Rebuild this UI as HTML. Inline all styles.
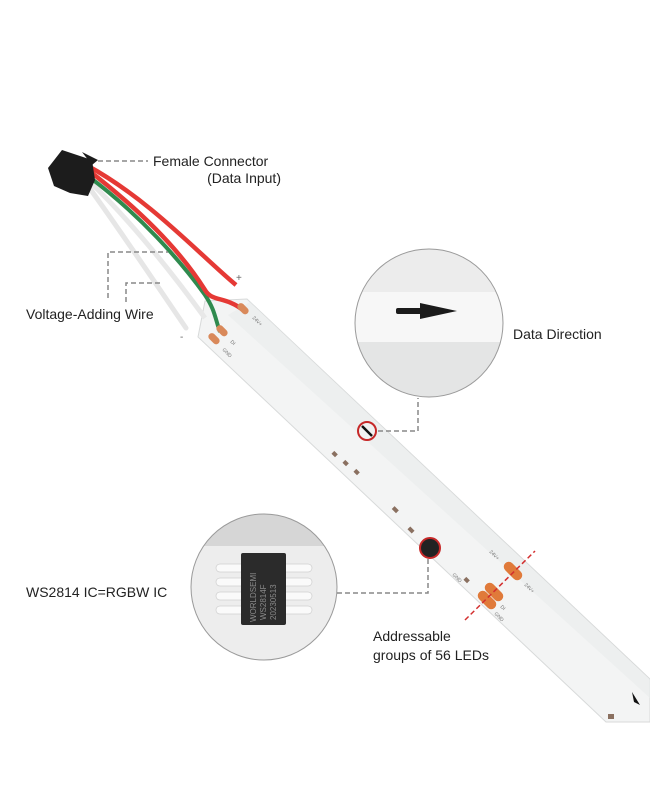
<!DOCTYPE html>
<html><head><meta charset="utf-8"><style>
html,body{margin:0;padding:0;background:#fff;}
svg{display:block;font-family:"Liberation Sans",sans-serif;}
</style></head><body>
<svg width="650" height="800" viewBox="0 0 650 800" xmlns="http://www.w3.org/2000/svg">
<defs>
<clipPath id="c1"><circle cx="429" cy="323" r="74"/></clipPath>
<clipPath id="c2"><circle cx="264" cy="587" r="73"/></clipPath>
</defs>
<rect width="650" height="800" fill="#fff"/>
<!-- strip -->
<polygon points="205,301 247,299 650,679 650,722 606,722 198,337" fill="#f3f4f4" stroke="#d8dada" stroke-width="1"/>
<polygon points="228,315 250,302 650,680 650,698" fill="#eaecec" opacity="0.7"/>
<!-- wires -->
<path d="M88,186 C120,230 160,290 186,328" stroke="#e6e6e6" stroke-width="5" fill="none" stroke-linecap="round"/>
<path d="M88,180 C130,220 170,270 205,318" stroke="#e8e8e8" stroke-width="5" fill="none"/>
<path d="M88,176 C140,215 180,260 205,295 C215,310 215,318 220,332" stroke="#2f8a4e" stroke-width="4" fill="none"/>
<path d="M88,170 C140,210 180,250 205,290 C212,302 225,296 243,310" stroke="#e53935" stroke-width="4.5" fill="none"/>
<path d="M88,166 C150,200 200,255 236,285" stroke="#e53935" stroke-width="4.5" fill="none"/>
<!-- connector -->
<polygon points="48,168 62,150 92,160 95,180 88,196 70,193 54,186" fill="#1c1c1c"/>
<polygon points="82,152 98,160 92,165" fill="#1c1c1c"/>
<text x="236" y="281" font-size="10" fill="#666">+</text>
<text x="180" y="340" font-size="10" fill="#666">-</text>
<!-- pads -->
<g fill="#d9895a">
<rect x="237" y="305" width="13" height="7" rx="3.5" transform="rotate(45 243 308)"/>
<rect x="216" y="327" width="13" height="7" rx="3.5" transform="rotate(45 222 330)"/>
<rect x="208" y="335" width="13" height="7" rx="3.5" transform="rotate(45 214 338)"/>
<rect x="502" y="566" width="22" height="10" rx="5" transform="rotate(45 513 571)" fill="#e07a3a"/>
<rect x="483" y="587" width="22" height="10" rx="5" transform="rotate(45 494 592)" fill="#e07a3a"/>
<rect x="476" y="595" width="22" height="10" rx="5" transform="rotate(45 487 600)" fill="#e07a3a"/>
</g>
<g font-size="5" fill="#777">
<text x="252" y="318" transform="rotate(45 252 318)">24V+</text>
<text x="230" y="342" transform="rotate(45 230 342)">DI</text>
<text x="222" y="350" transform="rotate(45 222 350)">GND</text>
<text x="489" y="552" transform="rotate(45 489 552)">24V+</text>
<text x="524" y="585" transform="rotate(45 524 585)">24V+</text>
<text x="452" y="575" transform="rotate(45 452 575)">GND</text>
<text x="500" y="607" transform="rotate(45 500 607)">DI</text>
<text x="494" y="614" transform="rotate(45 494 614)">GND</text>
</g>
<!-- small components -->
<g fill="#8a7060">
<rect x="333" y="452" width="5" height="4" transform="rotate(45 335 453)"/>
<rect x="344" y="461" width="5" height="4" transform="rotate(45 346 462)"/>
<rect x="355" y="470" width="5" height="4" transform="rotate(45 357 471)"/>
<rect x="393" y="508" width="6" height="4" transform="rotate(45 396 509)"/>
<rect x="408" y="528" width="6" height="4" transform="rotate(45 411 530)"/>
<rect x="465" y="578" width="5" height="4" transform="rotate(45 467 579)"/>
<rect x="608" y="714" width="6" height="5"/>
</g>
<path d="M632,692 L640,705 L634,702 Z" fill="#111"/>
<!-- red cut lines -->
<line x1="465" y1="620" x2="535" y2="551" stroke="#d32f2f" stroke-width="1.5" stroke-dasharray="5,3"/>
<!-- data direction circle -->
<g clip-path="url(#c1)">
<rect x="350" y="245" width="160" height="160" fill="#ececec"/>
<rect x="350" y="292" width="160" height="50" fill="#f7f7f7"/>
<rect x="350" y="342" width="160" height="60" fill="#e4e5e5"/>
<rect x="396" y="308" width="26" height="6" rx="2" fill="#1b1b1b"/>
<polygon points="420,303 457,311 420,319" fill="#1b1b1b"/>
</g>
<circle cx="429" cy="323" r="74" fill="none" stroke="#9a9a9a" stroke-width="1"/>
<circle cx="367" cy="431" r="9" fill="#f1f1f1" stroke="#c62828" stroke-width="2"/>
<line x1="362" y1="426" x2="372" y2="436" stroke="#111" stroke-width="2.5"/>
<polyline points="378,431 418,431 418,398" fill="none" stroke="#888" stroke-width="1.5" stroke-dasharray="5,3"/>
<!-- IC circle -->
<g clip-path="url(#c2)">
<rect x="188" y="512" width="152" height="152" fill="#ededed"/>
<rect x="188" y="512" width="152" height="34" fill="#d6d6d6"/>
<g fill="#fafafa" stroke="#cfcfcf" stroke-width="0.7">
<rect x="216" y="564" width="30" height="8" rx="4"/><rect x="216" y="578" width="30" height="8" rx="4"/>
<rect x="216" y="592" width="30" height="8" rx="4"/><rect x="216" y="606" width="30" height="8" rx="4"/>
<rect x="282" y="564" width="30" height="8" rx="4"/><rect x="282" y="578" width="30" height="8" rx="4"/>
<rect x="282" y="592" width="30" height="8" rx="4"/><rect x="282" y="606" width="30" height="8" rx="4"/>
</g>
<rect x="241" y="553" width="45" height="72" rx="2" fill="#2b2b2b"/>
<g font-size="8" fill="#8a8a8a">
<text transform="translate(256,622) rotate(-90)">WORLDSEMI</text>
<text transform="translate(266,620) rotate(-90)">WS2814F</text>
<text transform="translate(276,620) rotate(-90)">20230513</text>
</g>
</g>
<circle cx="264" cy="587" r="73" fill="none" stroke="#9a9a9a" stroke-width="1"/>
<circle cx="430" cy="548" r="10" fill="#222" stroke="#c62828" stroke-width="2"/>
<polyline points="337,593 428,593 428,558" fill="none" stroke="#888" stroke-width="1.5" stroke-dasharray="5,3"/>
<!-- other dashed leaders -->
<line x1="98" y1="161" x2="148" y2="161" stroke="#888" stroke-width="1.5" stroke-dasharray="5,3"/>
<polyline points="108,298 108,252 168,252" fill="none" stroke="#888" stroke-width="1.5" stroke-dasharray="5,3"/>
<polyline points="126,302 126,283 160,283" fill="none" stroke="#888" stroke-width="1.5" stroke-dasharray="5,3"/>
<!-- labels -->
<g font-size="14" fill="#222">
<text x="153" y="166">Female Connector</text>
<text x="281" y="183" text-anchor="end">(Data Input)</text>
<text x="26" y="319">Voltage-Adding Wire</text>
<text x="513" y="339">Data Direction</text>
<text x="26" y="597">WS2814 IC=RGBW IC</text>
<text x="373" y="641">Addressable</text>
<text x="373" y="660">groups of 56 LEDs</text>
</g>
</svg>
</body></html>
